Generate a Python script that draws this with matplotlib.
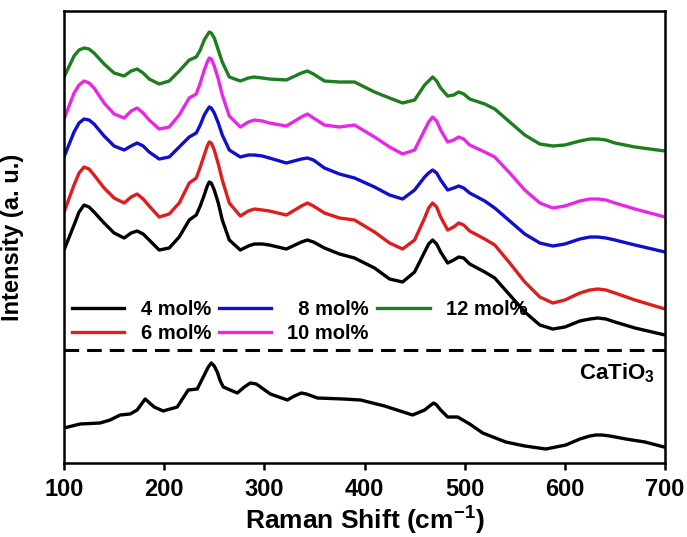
import matplotlib
matplotlib.use('Agg')
import matplotlib.pyplot as plt

plt.rcParams['font.family'] = ['Liberation Sans', 'DejaVu Sans']
plt.rcParams['font.weight'] = 'bold'
plt.rcParams['axes.labelweight'] = 'bold'
plt.rcParams['mathtext.fontset'] = 'custom'
plt.rcParams['mathtext.rm'] = 'Liberation Sans:bold'
plt.rcParams['mathtext.bf'] = 'Liberation Sans:bold'

# Raman shift positions for the doped samples (cm-1)
shift = [100, 110, 115, 120, 125, 130, 140, 150, 160, 167,
         173, 179, 185, 195, 205, 215, 225, 232, 236, 240,
         243, 245, 247, 250, 254, 258, 265, 276, 284, 290,
         298, 305, 322, 337, 343, 349, 360, 375, 390, 410,
         425, 438, 450, 460, 464, 468, 472, 476, 483, 489,
         494, 499, 505, 520, 530, 545, 560, 575, 588, 600,
         615, 625, 633, 641, 650, 670, 700]

# intensities (a.u., already offset for stacking)
mol4 = [213, 238, 251, 258, 256, 251, 240, 230, 225, 230,
        232, 229, 223, 213, 215, 226, 243, 248, 257, 268,
        277, 281, 280, 273, 260, 243, 223, 213, 217, 219,
        219, 218, 214, 221, 223, 221, 215, 209, 205, 195,
        184, 181, 191, 211, 219, 223, 219, 211, 200, 203,
        206, 205, 199, 191, 185, 168, 151, 138, 134, 136,
        142, 144, 145, 144, 141, 135, 128]
mol6 = [251, 278, 290, 296, 294, 288, 275, 265, 260, 266,
        269, 264, 257, 246, 249, 260, 280, 285, 296, 308,
        317, 321, 320, 313, 299, 283, 260, 247, 252, 254,
        253, 252, 248, 257, 260, 257, 250, 245, 243, 231,
        220, 214, 223, 245, 255, 260, 256, 246, 233, 236,
        240, 238, 232, 224, 218, 200, 181, 166, 160, 163,
        170, 173, 174, 173, 170, 163, 154]
mol8 = [306, 331, 340, 344, 343, 339, 327, 317, 313, 317,
        320, 317, 311, 304, 306, 316, 326, 330, 338, 348,
        353, 356, 355, 350, 340, 328, 313, 306, 308, 308,
        307, 305, 300, 304, 305, 303, 295, 289, 285, 276,
        268, 264, 273, 286, 290, 293, 290, 283, 273, 275,
        277, 275, 270, 262, 255, 242, 229, 220, 217, 219,
        224, 226, 226, 225, 223, 218, 211]
mol10 = [344, 370, 378, 382, 380, 375, 360, 349, 345, 352,
         355, 350, 343, 334, 336, 348, 365, 369, 380, 393,
         401, 405, 404, 397, 384, 368, 347, 336, 341, 343,
         342, 340, 337, 346, 349, 345, 338, 336, 338, 326,
         316, 309, 313, 333, 341, 346, 342, 333, 321, 323,
         326, 324, 318, 311, 306, 290, 273, 260, 255, 257,
         262, 264, 264, 263, 260, 254, 246]
mol12 = [386, 407, 413, 415, 414, 410, 399, 390, 387, 392,
         394, 390, 384, 379, 382, 392, 403, 406, 413, 423,
         428, 431, 430, 425, 413, 401, 386, 382, 385, 386,
         385, 384, 383, 390, 392, 389, 382, 381, 381, 371,
         365, 360, 363, 378, 382, 386, 382, 375, 367, 368,
         371, 369, 364, 359, 354, 341, 328, 319, 317, 318,
         322, 324, 324, 323, 320, 316, 312]

# pure CaTiO3 reference spectrum
shift_cto = [100, 116, 136, 146, 156, 166, 173, 181, 190, 199,
             213, 224, 233, 240, 244, 247, 250, 253, 256, 259,
             273, 280, 286, 292, 306, 323, 330, 337, 342, 353,
             379, 396, 420, 448, 460, 465, 469, 472, 476, 483,
             488, 493, 505, 518, 541, 560, 581, 601, 615, 625,
             631, 637, 645, 661, 680, 699]
cto = [35, 39, 40, 43, 48, 49, 53, 64, 56, 52,
       56, 73, 74, 88, 96, 100, 97, 91, 82, 76,
       70, 76, 80, 79, 69, 63, 67, 70, 69, 65,
       64, 63, 57, 48, 53, 57, 60, 58, 53, 46,
       46, 46, 39, 30, 21, 17, 14, 18, 24, 27,
       28, 28, 27, 24, 21, 16]

labels = ['4 mol%', '6 mol%', '  8 mol%', '10 mol%', '12 mol%']
colors = ['black', '#dc1e1e', '#1010c8', '#e628e6', '#1e7d1e']
series = [mol4, mol6, mol8, mol10, mol12]

fig = plt.figure(figsize=(6.87, 5.37), dpi=100)
ax = fig.add_axes([0.0932, 0.1378, 0.8748, 0.8417])

for y, c, lab in zip(series, colors, labels):
    ax.plot(shift, y, color=c, lw=2.4, label=lab, solid_joinstyle='round')

ax.plot(shift_cto, cto, color='black', lw=2.4, solid_joinstyle='round')
ax.axhline(113, color='black', lw=2.2, ls=(0, (4.8, 2.6)))
ax.text(690, 90, r'CaTiO$_\mathbf{3}$', ha='right', va='center', fontsize=16)

ax.set_xlim(100, 700)
ax.set_ylim(0, 452)
ax.set_yticks([])
ax.set_xticks([100, 200, 300, 400, 500, 600, 700])
ax.tick_params(axis='x', direction='out', length=5, width=1.8, labelsize=17, pad=6)
for s in ax.spines.values():
    s.set_linewidth(1.8)

ax.set_xlabel(r'Raman Shift (cm$^{\mathbf{-1}}$)', fontsize=19, fontweight='bold', labelpad=1)
ax.set_ylabel('Intensity (a. u.)', fontsize=17, fontweight='bold')
ax.yaxis.set_label_coords(-0.066, 0.5)

ax.legend(loc='upper left', bbox_to_anchor=(0.0, 0.378), ncol=3, frameon=False,
          prop={'size': 14.5, 'weight': 'bold'}, handlelength=2.6, handletextpad=0.8,
          columnspacing=0.4, labelspacing=0.25, borderaxespad=0.2, borderpad=0.2)

fig.savefig('out.png', dpi=100)
